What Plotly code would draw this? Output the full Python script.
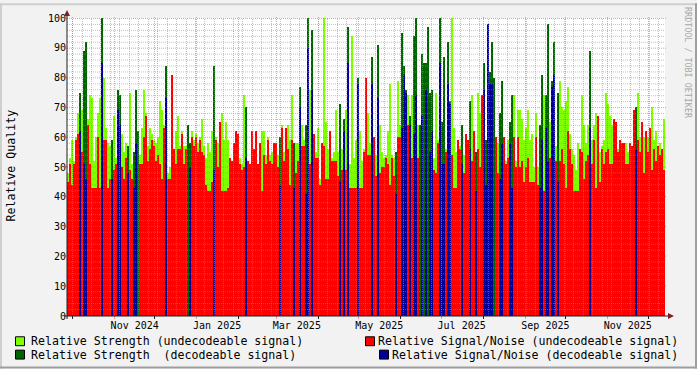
import plotly.graph_objects as go
from datetime import datetime, timedelta

# ---------------- data (one value per ~1.48-day consolidated sample) ----------------
strength = [
    48, 53, 59, 52, 60, 68, 75, 69, 89, 92, 66, 74, 73, 52, 60, 68, 73, 100, 80, 63,
    58, 57, 59, 67, 53, 76, 74, 61, 55, 58, 57, 75, 51, 55, 76, 62, 54, 63, 76, 68,
    57, 63, 61, 59, 58, 60, 72, 69, 64, 84, 48, 50, 80, 56, 62, 67, 57, 62, 57, 57,
    64, 58, 62, 59, 61, 58, 60, 66, 57, 53, 58, 55, 62, 84, 60, 58, 64, 68, 59, 65,
    59, 53, 52, 55, 60, 60, 53, 51, 74, 70, 52, 51, 60, 56, 58, 51, 58, 62, 62, 54,
    60, 54, 55, 58, 58, 54, 60, 64, 55, 63, 64, 59, 74, 58, 58, 58, 77, 64, 59, 64,
    100, 76, 96, 61, 55, 63, 46, 58, 100, 65, 56, 60, 53, 55, 69, 55, 71, 56, 66, 69,
    97, 51, 94, 53, 59, 80, 62, 52, 56, 78, 68, 58, 87, 60, 54, 91, 64, 55, 53, 54,
    62, 78, 54, 53, 55, 79, 64, 95, 84, 76, 74, 67, 74, 94, 100, 64, 64, 88, 85, 85,
    97, 75, 76, 53, 75, 59, 100, 65, 87, 56, 92, 72, 100, 63, 55, 58, 57, 64, 54, 61,
    59, 72, 74, 60, 55, 75, 68, 72, 85, 59, 98, 82, 92, 80, 60, 58, 68, 79, 60, 52,
    59, 65, 74, 74, 52, 69, 69, 66, 59, 63, 69, 59, 61, 50, 68, 50, 64, 81, 74, 74,
    98, 65, 79, 92, 57, 75, 79, 70, 69, 72, 77, 61, 56, 54, 49, 58, 55, 74, 64, 58,
    64, 89, 59, 64, 68, 66, 55, 57, 59, 75, 71, 67, 64, 64, 64, 56, 58, 57, 58, 58,
    55, 58, 57, 68, 70, 75, 60, 64, 60, 61, 60, 62, 70, 59, 62, 57, 58, 56, 66,
]
snr = [
    45, 51, 44, 51, 59, 61, 62, 55, 51, 46, 64, 51, 43, 43, 43, 60, 43, 85, 59, 59,
    43, 46, 46, 49, 51, 69, 64, 50, 46, 53, 48, 49, 46, 43, 58, 0, 51, 51, 60, 67,
    52, 56, 59, 57, 52, 54, 51, 46, 63, 73, 46, 46, 81, 56, 51, 56, 56, 61, 51, 56,
    0, 50, 60, 57, 60, 55, 59, 55, 54, 44, 42, 42, 45, 49, 59, 50, 65, 42, 42, 42,
    43, 53, 52, 58, 62, 61, 51, 49, 50, 53, 52, 51, 62, 56, 62, 51, 58, 42, 54, 51,
    59, 52, 51, 58, 58, 50, 44, 63, 52, 63, 56, 44, 59, 43, 48, 52, 70, 57, 57, 41,
    90, 51, 76, 61, 53, 53, 44, 58, 57, 46, 46, 62, 52, 52, 52, 47, 45, 49, 62, 49,
    85, 43, 43, 43, 43, 78, 43, 43, 55, 80, 54, 54, 78, 60, 47, 73, 48, 50, 50, 53,
    51, 44, 53, 47, 41, 60, 60, 63, 81, 75, 64, 64, 53, 61, 74, 53, 0, 67, 0, 76,
    0, 55, 62, 49, 48, 58, 85, 51, 51, 55, 78, 71, 54, 43, 43, 59, 56, 51, 48, 61,
    59, 56, 52, 62, 42, 56, 50, 74, 76, 44, 98, 78, 78, 0, 60, 48, 46, 58, 60, 51,
    53, 58, 43, 60, 50, 60, 50, 52, 45, 50, 53, 45, 45, 45, 60, 44, 43, 59, 42, 63,
    52, 53, 77, 81, 52, 45, 52, 56, 51, 43, 62, 56, 51, 42, 42, 42, 56, 55, 46, 52,
    54, 63, 51, 59, 43, 67, 45, 56, 51, 55, 56, 51, 51, 66, 65, 55, 59, 58, 58, 51,
    51, 58, 57, 69, 56, 59, 55, 65, 48, 62, 55, 63, 49, 56, 52, 57, 54, 56, 49,
]
decoded = [
    0, 0, 0, 0, 0, 0, 1, 0, 1, 1, 0, 0, 0, 0, 0, 0, 0, 1, 0, 0,
    0, 0, 1, 0, 0, 1, 1, 0, 0, 0, 1, 0, 0, 1, 1, 1, 0, 0, 0, 0,
    0, 0, 0, 0, 0, 0, 0, 0, 0, 1, 0, 0, 0, 0, 0, 0, 0, 0, 0, 0,
    1, 1, 0, 0, 0, 0, 0, 0, 0, 0, 0, 0, 0, 1, 0, 0, 0, 0, 0, 0,
    0, 0, 0, 0, 0, 0, 0, 0, 0, 1, 0, 0, 0, 0, 0, 0, 0, 0, 0, 0,
    0, 0, 0, 0, 0, 0, 1, 0, 0, 0, 0, 0, 0, 1, 0, 0, 1, 0, 0, 1,
    1, 0, 1, 0, 0, 0, 0, 0, 0, 0, 0, 0, 0, 0, 0, 0, 1, 0, 1, 0,
    1, 0, 0, 0, 0, 1, 0, 0, 0, 0, 0, 0, 1, 0, 0, 1, 0, 0, 0, 0,
    0, 0, 0, 0, 1, 0, 0, 1, 1, 1, 0, 1, 0, 1, 1, 0, 1, 1, 1, 1,
    1, 1, 1, 0, 0, 0, 1, 1, 1, 0, 1, 1, 0, 0, 0, 0, 0, 1, 0, 0,
    0, 1, 0, 0, 1, 0, 0, 0, 1, 1, 1, 1, 1, 1, 0, 0, 1, 1, 0, 0,
    0, 1, 1, 0, 0, 0, 0, 0, 0, 0, 0, 0, 0, 0, 0, 0, 1, 1, 0, 1,
    1, 0, 1, 1, 0, 1, 0, 0, 0, 0, 0, 0, 0, 0, 0, 0, 0, 0, 0, 0,
    0, 1, 0, 0, 0, 0, 0, 0, 0, 0, 0, 0, 0, 0, 0, 0, 0, 0, 0, 0,
    0, 0, 0, 0, 1, 0, 0, 0, 0, 0, 0, 0, 0, 0, 0, 0, 0, 0, 0,
]

series_names = [
    "Relative Strength (undecodeable signal)",
    "Relative Strength  (decodeable signal)",
    "Relative Signal/Noise (undecodeable signal)",
    "Relative Signal/Noise (decodeable signal)",
]
series_colors = ["#80FF00", "#006400", "#FF0000", "#000099"]

month_labels = ["Nov 2024", "Jan 2025", "Mar 2025", "May 2025", "Jul 2025", "Sep 2025", "Nov 2025"]
month_label_dates = [datetime(2024, 11, 16), datetime(2025, 1, 16), datetime(2025, 3, 16),
                     datetime(2025, 5, 16), datetime(2025, 7, 16), datetime(2025, 9, 16),
                     datetime(2025, 11, 16)]
y_ticks = list(range(0, 101, 10))

t_start = datetime(2024, 9, 26, 21, 14)
span_days = 442.65
t_end = t_start + timedelta(days=span_days)
n = len(strength)
step = timedelta(days=span_days / n)
times = [t_start + step * (i + 0.5) for i in range(n)]
bar_w = step.total_seconds() * 1000.0

# ---------------- geometry helpers ----------------
W, H = 697, 369
L, R, T, B = 67, 665, 15, 316
PW, PH = R - L, B - T

def fx(px):
    return (px - L) / PW

def fy(py):
    return (B - py) / PH

def date_px(t):
    return L + (t - t_start).total_seconds() / (span_days * 86400.0) * PW

def val_py(v):
    return B - v / 100.0 * PH

GRID = "rgba(143,143,143,0.55)"
MGRID = "rgba(222,79,79,0.55)"
ARROW = "#801F1F"
AXIS = "#1F1F1F"
FONT = "DejaVu Sans Mono"

# ---------------- traces ----------------
lg = [s if not d else None for s, d in zip(strength, decoded)]
dg = [s if d else None for s, d in zip(strength, decoded)]
rd = [v if not d else None for v, d in zip(snr, decoded)]
bl = [v if d else None for v, d in zip(snr, decoded)]

fig = go.Figure()
for ys, name, col in zip([lg, dg, rd, bl], series_names, series_colors):
    fig.add_trace(go.Bar(x=times, y=ys, width=bar_w, name=name,
                         marker=dict(color=col, line=dict(width=0)), showlegend=False))

shapes = []

def hline_px(py, x0, x1, color, dash=None, width=1):
    c = int(py) + 0.5
    d = dict(type="line", xref="paper", yref="paper", x0=fx(x0), x1=fx(x1), y0=fy(c), y1=fy(c),
             line=dict(color=color, width=width), layer="above")
    if dash:
        d["line"]["dash"] = dash
    shapes.append(d)

def vline_px(px, y0, y1, color, dash=None, width=1):
    c = int(px) + 0.5
    d = dict(type="line", xref="paper", yref="paper", x0=fx(c), x1=fx(c), y0=fy(y0), y1=fy(y1),
             line=dict(color=color, width=width), layer="above")
    if dash:
        d["line"]["dash"] = dash
    shapes.append(d)

# minor horizontal grid (every 2) and major (every 10)
for v in range(2, 101, 2):
    if v % 10:
        hline_px(val_py(v), L, R, GRID, "1px,1px")
for v in range(10, 101, 10):
    hline_px(val_py(v), L - 2, R + 2, MGRID, "1px,1px")
    hline_px(val_py(v), L - 3, L, MGRID)

# weekly minor vertical grid
wk = datetime(2024, 10, 1)
while wk < t_end:
    if wk > t_start:
        vline_px(date_px(wk), B, T, GRID, "1px,1px")
    wk += timedelta(days=7)

# monthly major vertical grid
y_, m_ = 2024, 10
while True:
    md = datetime(y_, m_, 1)
    if md >= t_end:
        break
    if md > t_start:
        px = date_px(md)
        vline_px(px, B, T - 2, MGRID, "1px,1px")
        vline_px(px, B + 3, B, AXIS if m_ % 2 == 0 else MGRID)
    m_ += 1
    if m_ > 12:
        m_ = 1
        y_ += 1

# axes
shapes.append(dict(type="line", xref="paper", yref="paper", x0=fx(L), x1=fx(L), y0=fy(B + 3), y1=fy(T - 3),
                   line=dict(color=AXIS, width=1), layer="above"))
shapes.append(dict(type="line", xref="paper", yref="paper", x0=fx(L - 3), x1=fx(R + 4), y0=fy(B), y1=fy(B),
                   line=dict(color=AXIS, width=1), layer="above"))
# arrows
shapes.append(dict(type="path", xref="paper", yref="paper",
                   path=f"M {fx(L-3)} {fy(T-2)} L {fx(L+3)} {fy(T-2)} L {fx(L)} {fy(T-8)} Z",
                   fillcolor=ARROW, line=dict(width=0), layer="above"))
shapes.append(dict(type="path", xref="paper", yref="paper",
                   path=f"M {fx(R+3)} {fy(B-3)} L {fx(R+3)} {fy(B+3)} L {fx(R+9)} {fy(B)} Z",
                   fillcolor=ARROW, line=dict(width=0), layer="above"))

# frame (shade A top/left, shade B bottom/right)
def rect_px(x0, y0, x1, y1, fill, line=None):
    d = dict(type="rect", xref="paper", yref="paper", x0=fx(x0), x1=fx(x1), y0=fy(y0), y1=fy(y1),
             fillcolor=fill, line=dict(width=0), layer="above")
    if line:
        d["line"] = dict(color=line, width=1)
    shapes.append(d)

rect_px(0, 0, W, 2, "#CFCFCF")
rect_px(0, 0, 2, H, "#CFCFCF")
rect_px(0, H - 2, W, H, "#9E9E9E")
rect_px(W - 2, 0, W, H, "#9E9E9E")

# ---------------- legend (manual, rrdtool style) ----------------
annotations = []
leg_rows = [341.5, 355.0]
leg_boxes = [(15.5, leg_rows[0]), (15.5, leg_rows[1]), (365.5, leg_rows[0]), (379.5, leg_rows[1])]
leg_text_x = [30, 30, 679, 679]
leg_anchor = ["left", "left", "right", "right"]
for i, name in enumerate(series_names):
    bx, by = leg_boxes[i]
    rect_px(bx, by - 4.5, bx + 9, by + 4.5, series_colors[i], line="#000000")
    annotations.append(dict(x=fx(leg_text_x[i]), y=fy(by), xref="paper", yref="paper",
                            text=name.replace("  ", " \u00a0"), showarrow=False,
                            xanchor=leg_anchor[i], yanchor="middle",
                            font=dict(family=FONT, size=11.6, color="#000000"),
                            borderpad=0))

annotations.append(dict(x=fx(11), y=fy(164), xref="paper", yref="paper", text="Relative Quality",
                        textangle=-90, showarrow=False, xanchor="center", yanchor="middle",
                        font=dict(family=FONT, size=11.6, color="#000000"), borderpad=0))
annotations.append(dict(x=fx(688.5), y=fy(60), xref="paper", yref="paper", text="RRDTOOL / TOBI OETIKER",
                        textangle=90, showarrow=False, xanchor="center", yanchor="middle",
                        font=dict(family=FONT, size=8.4, color="#A8A8A8"), borderpad=0))

fig.update_layout(
    width=W, height=H, autosize=False,
    margin=dict(l=L, r=W - R, t=T, b=H - B, pad=0),
    paper_bgcolor="#F2F2F2", plot_bgcolor="#FFFFFF",
    barmode="overlay", bargap=0, showlegend=False,
    shapes=shapes, annotations=annotations,
    xaxis=dict(type="date", range=[t_start, t_end], showgrid=False, zeroline=False, showline=False,
               tickvals=month_label_dates, ticktext=month_labels, ticks="", ticklabelstandoff=2,
               tickfont=dict(family=FONT, size=10, color="#000000"), fixedrange=True),
    yaxis=dict(range=[0, 100], showgrid=False, zeroline=False, showline=False,
               tickvals=y_ticks, ticktext=[str(v) for v in y_ticks], ticks="",
               tickfont=dict(family=FONT, size=10, color="#000000"), fixedrange=True),
)

fig.write_html("out.html")
